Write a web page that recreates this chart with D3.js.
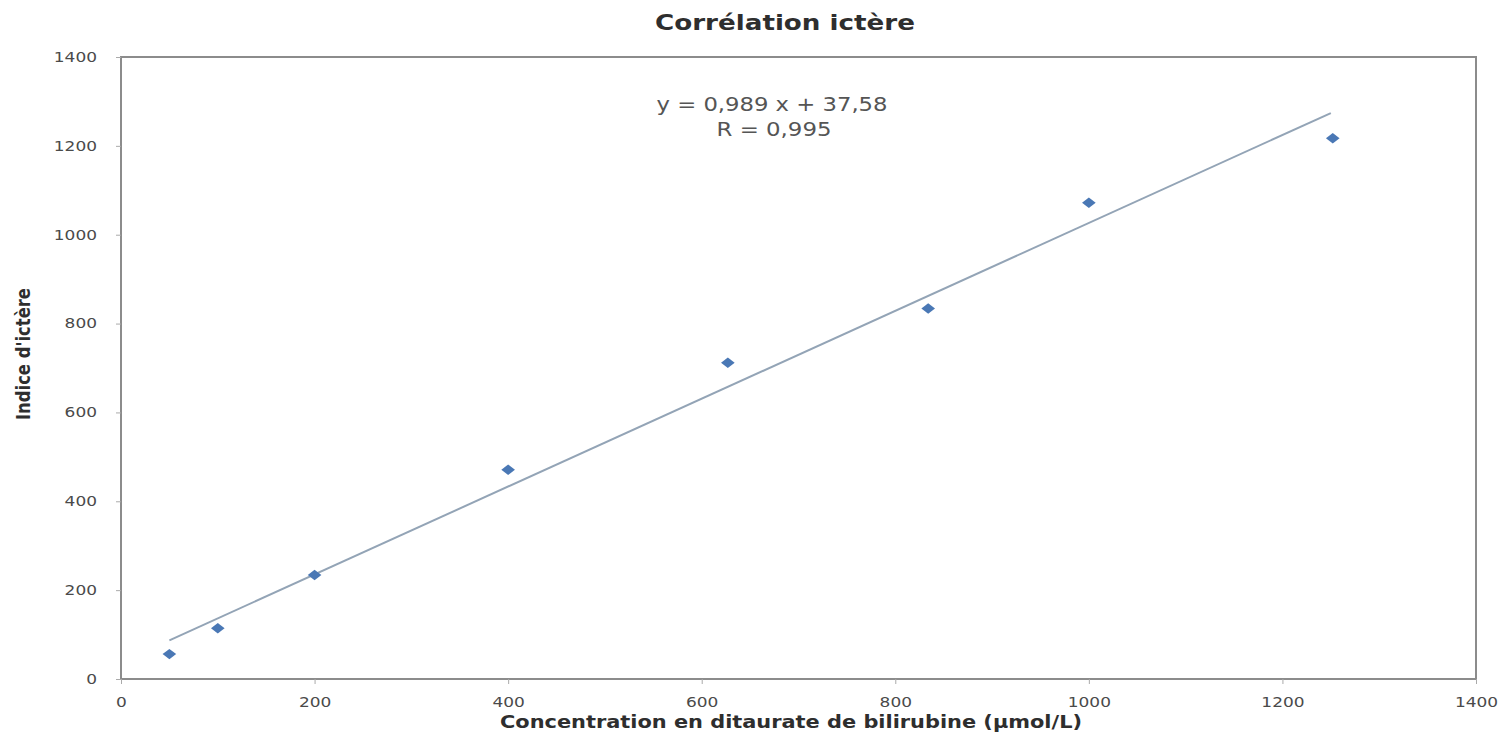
<!DOCTYPE html>
<html>
<head>
<meta charset="utf-8">
<script src="https://cdn.jsdelivr.net/npm/d3@7"></script>
<style>
  body { margin: 0; background: #fff; }
  svg { font-family: "DejaVu Sans", Verdana, sans-serif; }
</style>
</head>
<body>
<svg width="1512" height="740"></svg>
<script>
// data
const concentration = [50, 100, 200, 400, 627, 834, 1000, 1252];
const indice = [56, 114, 234, 471, 712, 834, 1072, 1217];
const slope = 0.989, intercept = 37.58;
const xTicks = [0, 200, 400, 600, 800, 1000, 1200, 1400];
const yTicks = [0, 200, 400, 600, 800, 1000, 1200, 1400];

const svg = d3.select("svg"),
  width = +svg.attr("width"),
  height = +svg.attr("height");

const plotLeft = 121, plotRight = 1476, plotTop = 57, plotBottom = 679;

const x = d3.scaleLinear().domain([0, 1400]).range([plotLeft, plotRight]);
const y = d3.scaleLinear().domain([0, 1400]).range([plotBottom, plotTop]);

// plot frame
svg.append("rect")
  .attr("x", plotLeft).attr("y", plotTop)
  .attr("width", plotRight - plotLeft).attr("height", plotBottom - plotTop)
  .attr("fill", "none")
  .attr("stroke", "#8c8c8c")
  .attr("stroke-width", 2);

// axes
const xAxis = svg.append("g")
  .attr("transform", `translate(0,${plotBottom})`)
  .call(d3.axisBottom(x).tickValues(xTicks).tickFormat(d3.format("d")).tickSize(5).tickPadding(13));
const yAxis = svg.append("g")
  .attr("transform", `translate(${plotLeft},0)`)
  .call(d3.axisLeft(y).tickValues(yTicks).tickFormat(d3.format("d")).tickSize(5).tickPadding(19));

[xAxis, yAxis].forEach(g => {
  g.select(".domain").remove();
  g.selectAll(".tick line").attr("stroke", "#aaa");
  g.selectAll(".tick text")
    .attr("fill", "#4a4a4a")
    .attr("font-family", "DejaVu Sans")
    .style("font-size", "13.5px")
    // the picture is stretched sideways, so widen the digits a bit
    .attr("textLength", d => String(d).length * 10.8)
    .attr("lengthAdjust", "spacingAndGlyphs");
});

// trendline
svg.append("line")
  .attr("x1", x(concentration[0]))
  .attr("y1", y(slope * concentration[0] + intercept))
  .attr("x2", x(1250))
  .attr("y2", y(slope * 1250 + intercept))
  .attr("stroke", "#93a4b6")
  .attr("stroke-width", 2);

// points
svg.append("g")
  .selectAll("path")
  .data(concentration)
  .enter()
  .append("path")
  .attr("d", d3.symbol(d3.symbolDiamond2, 70))
  .attr("transform", (d, i) => `translate(${x(d)},${y(indice[i])}) scale(1.3,1)`)
  .attr("fill", "#4a78b5");

// title
svg.append("text")
  .attr("x", 785).attr("y", 30)
  .attr("text-anchor", "middle")
  .attr("fill", "#2e2e2e")
  .style("font-size", "22px")
  .style("font-weight", "bold")
  .attr("textLength", 260)
  .attr("lengthAdjust", "spacingAndGlyphs")
  .text("Corrélation ictère");

// equation
svg.append("text")
  .attr("x", 772).attr("y", 111)
  .attr("text-anchor", "middle")
  .attr("fill", "#555")
  .style("font-size", "19px")
  .attr("textLength", 231)
  .attr("lengthAdjust", "spacingAndGlyphs")
  .text("y = 0,989 x + 37,58");
svg.append("text")
  .attr("x", 774).attr("y", 136)
  .attr("text-anchor", "middle")
  .attr("fill", "#555")
  .style("font-size", "19px")
  .attr("textLength", 115)
  .attr("lengthAdjust", "spacingAndGlyphs")
  .text("R = 0,995");

// axis titles
svg.append("text")
  .attr("x", 791).attr("y", 728)
  .attr("text-anchor", "middle")
  .attr("fill", "#2e2e2e")
  .style("font-size", "17px")
  .style("font-weight", "bold")
  .attr("textLength", 582)
  .attr("lengthAdjust", "spacingAndGlyphs")
  .text("Concentration en ditaurate de bilirubine (µmol/L)");

svg.append("text")
  .attr("transform", "translate(30,354) rotate(-90)")
  .attr("text-anchor", "middle")
  .attr("fill", "#2e2e2e")
  .style("font-family", "'Liberation Sans Narrow', 'DejaVu Sans Condensed', sans-serif")
  .style("font-size", "19px")
  .style("font-weight", "bold")
  .attr("textLength", 132)
  .attr("lengthAdjust", "spacingAndGlyphs")
  .text("Indice d'ictère");
</script>
</body>
</html>
